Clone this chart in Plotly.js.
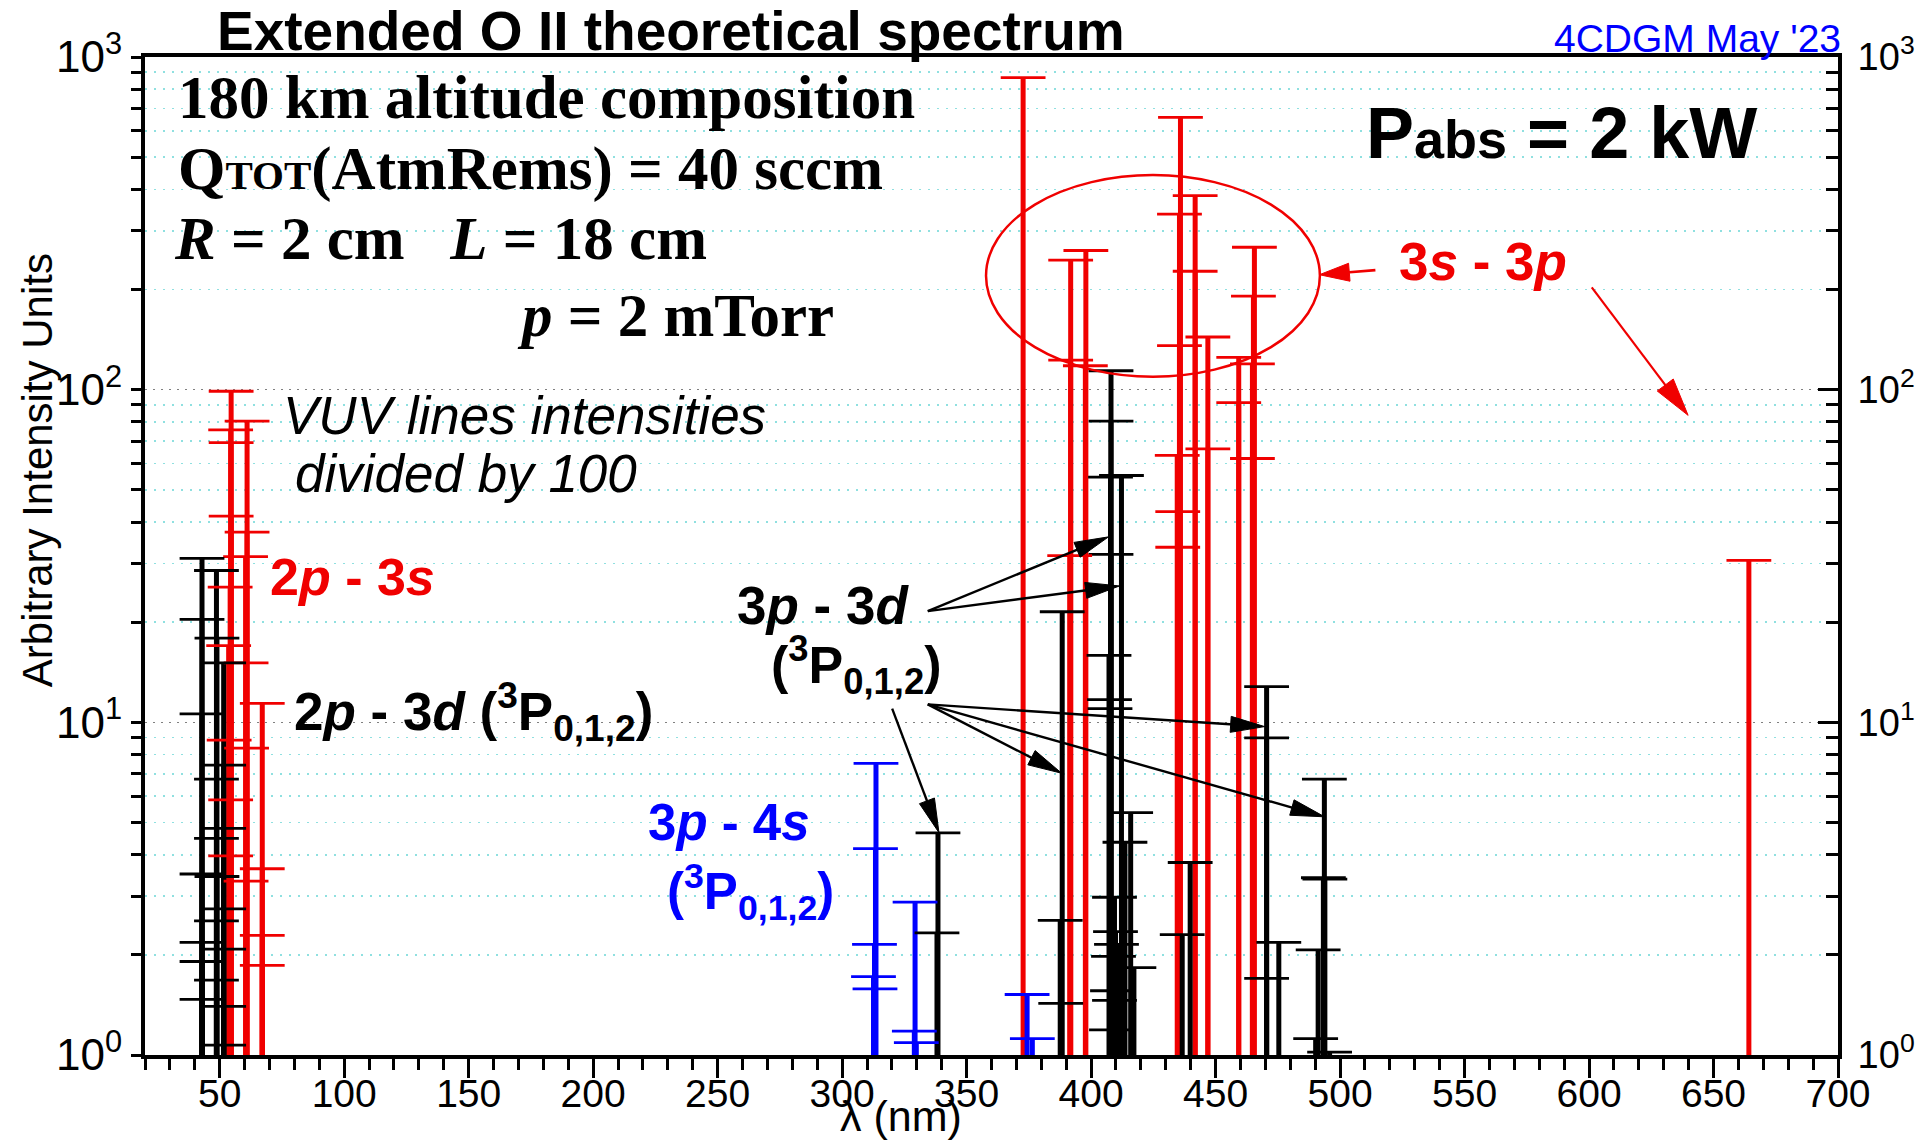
<!DOCTYPE html>
<html>
<head>
<meta charset="utf-8">
<script src="https://cdn.plot.ly/plotly-3.0.1.min.js"></script>
<style>
  html, body { margin: 0; padding: 0; background: #ffffff; }
  #chart { width: 1930px; height: 1144px; }
</style>
</head>
<body>
<div id="chart"></div>
<script>
// ---- O II line list: wavelength (nm) and relative intensity (arb. units) ----
// VUV lines (intensities divided by 100)
const vuv2p3sLambda    = [54.6, 54.4, 54.6, 54.6, 54.2, 53.6, 53.8, 54.4, 54.4,
                          61.0, 61.0, 60.4, 60.6, 60.8, 60.6,
                          67.1, 67.1, 67.1, 67.1];
const vuv2p3sIntensity = [98.9, 75.7, 69.3, 41.7, 25.5, 17.0, 8.84, 5.85, 3.97,
                          80.4, 37.3, 31.5, 15.1, 8.37, 3.33,
                          11.4, 3.63, 2.29, 1.86];

const vuv2p3dLambda    = [42.9, 42.9, 42.9, 42.9, 42.9, 42.9, 42.9,
                          48.7, 48.9, 48.7, 48.7, 48.9, 48.7, 48.7,
                          51.6, 51.6, 51.6, 51.6, 51.6, 51.6, 51.6];
const vuv2p3dIntensity = [31.1, 20.4, 10.6, 3.5, 2.18, 1.91, 1.47,
                          28.6, 17.9, 6.75, 4.48, 3.44, 2.53, 1.68,
                          15.1, 7.44, 4.8, 2.75, 2.08, 1.40, 1.07];

// Visible / near-UV lines
const lines3s3pLambda    = [372.7, 391.8, 391.8, 391.4, 397.9, 397.7,
                            435.9, 435.5, 435.5, 434.6, 434.8, 434.8,
                            441.8, 441.8, 446.9, 446.9, 459.3, 459.3,
                            465.6, 465.2, 464.8, 464.8, 664.2];
const lines3s3pIntensity = [867, 245, 122.7, 31.7, 262, 118,
                            658, 337, 135.7, 63.5, 43, 33.6,
                            383, 227, 144, 66.4, 125, 91.4,
                            268, 191, 119.5, 62.1, 30.7];

const lines3p3dLambda    = [338.5, 338.1, 388.4, 387.6, 387.8,
                            408.0, 408.0, 407.8, 408.0, 407.2, 407.4, 407.6,
                            409.4, 409.8, 410.2, 409.0, 408.6, 409.4, 408.2,
                            412.2, 413.6, 415.9, 417.2, 436.6, 439.8,
                            470.5, 470.5, 470.5, 475.4,
                            493.7, 493.3, 493.9, 491.2, 490.2, 495.8];
const lines3p3dIntensity = [4.65, 2.33, 21.5, 2.54, 1.43,
                            114, 80.4, 54.6, 32, 15.9, 11.7, 11.0,
                            2.98, 2.35, 2.15, 1.98, 1.56, 1.46, 1.19,
                            55.2, 4.36, 5.35, 1.83, 2.30, 3.79,
                            12.8, 8.98, 1.70, 2.18,
                            6.75, 3.41, 3.38, 2.07, 1.12, 1.02];

const lines3p4sLambda    = [313.6, 313.4, 313.0, 312.6, 313.2, 329.3, 329.0, 329.8, 374.3, 376.4];
const lines3p4sIntensity = [7.53, 4.17, 2.15, 1.72, 1.58, 2.88, 1.18, 1.09, 1.52, 1.12];

// ---- axis ticks ----
const xTickValues  = [50, 100, 150, 200, 250, 300, 350, 400, 450, 500, 550, 600, 650, 700];
const decadeValues = [1, 10, 100, 1000];
const decadeLabels = ['10<sup>0</sup>', '10<sup>1</sup>', '10<sup>2</sup>', '10<sup>3</sup>'];

const X_RANGE = [20, 700];
const Y_LOG_RANGE = [0, 3];
const BASELINE = 1;   // sticks rise from the bottom of the log axis

const RED = '#f00000', BLACK = '#000000', BLUE = '#0000ff';

// minor log ticks 2..9 in every decade
const minorValues = [];
decadeValues.slice(0, 3).forEach(d => { for (let k = 2; k <= 9; k++) minorValues.push(d * k); });

// ---- stick spectrum helpers ----
function stickTrace(lams, vals, color, width, yaxis) {
  const x = [], y = [];
  lams.forEach((l, i) => { x.push(l, l, null); y.push(BASELINE, vals[i], null); });
  return { type: 'scatter', mode: 'lines', x, y, yaxis: yaxis || 'y',
           line: { color, width }, hoverinfo: 'skip', showlegend: false };
}
function capTrace(lams, vals, color, yaxis) {
  return { type: 'scatter', mode: 'markers', x: lams, y: vals, yaxis: yaxis || 'y',
           marker: { symbol: 'line-ew', size: 32, color, line: { color, width: 2.8 } },
           hoverinfo: 'skip', showlegend: false, cliponaxis: false };
}

const traces = [
  stickTrace(vuv2p3sLambda, vuv2p3sIntensity, RED, 5),
  stickTrace(lines3s3pLambda, lines3s3pIntensity, RED, 5),
  stickTrace(vuv2p3dLambda, vuv2p3dIntensity, BLACK, 5),
  stickTrace(lines3p3dLambda, lines3p3dIntensity, BLACK, 5),
  stickTrace(lines3p4sLambda, lines3p4sIntensity, BLUE, 5),
  capTrace(vuv2p3sLambda, vuv2p3sIntensity, RED),
  capTrace(lines3s3pLambda, lines3s3pIntensity, RED, 'y2'),
  capTrace(vuv2p3dLambda, vuv2p3dIntensity, BLACK),
  capTrace(lines3p3dLambda, lines3p3dIntensity, BLACK),
  capTrace(lines3p4sLambda, lines3p4sIntensity, BLUE)
];

// ---- geometry of the plotting area ----
const W = 1930, H = 1144;
const M = { l: 145, r: 92, t: 57, b: 89 };
const plotW = W - M.l - M.r, plotH = H - M.t - M.b;
const paperX = lam => (lam - X_RANGE[0]) / (X_RANGE[1] - X_RANGE[0]);
const paperY = v => (Math.log10(v) - Y_LOG_RANGE[0]) / (Y_LOG_RANGE[1] - Y_LOG_RANGE[0]);

// pointer arrows with long, narrow filled heads
function arrowShapes(from, to, color, len, halfW, width) {
  const x0 = paperX(from[0]) * plotW, y0 = paperY(from[1]) * plotH;
  const x1 = paperX(to[0]) * plotW,   y1 = paperY(to[1]) * plotH;
  const dx = x1 - x0, dy = y1 - y0, d = Math.hypot(dx, dy);
  const ux = dx / d, uy = dy / d, nx = -uy, ny = ux;
  const bx = x1 - ux * len, by = y1 - uy * len;
  const P = (x, y) => (x / plotW).toFixed(5) + ',' + (y / plotH).toFixed(5);
  return [
    { type: 'line', xref: 'paper', yref: 'paper', layer: 'above',
      x0: x0 / plotW, y0: y0 / plotH, x1: (bx + ux * 3) / plotW, y1: (by + uy * 3) / plotH,
      line: { color, width } },
    { type: 'path', xref: 'paper', yref: 'paper', layer: 'above',
      path: 'M' + P(x1, y1) + ' L' + P(bx + nx * halfW, by + ny * halfW) +
            ' L' + P(bx - nx * halfW, by - ny * halfW) + ' Z',
      fillcolor: color, line: { color, width: 1 } }
  ];
}

const shapes = [].concat(
  arrowShapes([334.4, 21.6], [407.0, 36.1], BLACK, 34, 8, 2.4),
  arrowShapes([334.4, 21.6], [411.4, 25.7], BLACK, 34, 8, 2.4),
  arrowShapes([334.4, 11.32], [469.7, 9.71], BLACK, 34, 8, 2.4),
  arrowShapes([334.4, 11.32], [388.2, 7.03], BLACK, 34, 8, 2.4),
  arrowShapes([334.4, 11.32], [493.8, 5.2], BLACK, 34, 8, 2.4),
  arrowShapes([320.1, 11.0], [338.9, 4.66], BLACK, 34, 8, 2.4),
  arrowShapes([514.2, 228.8], [491.7, 221.6], RED, 30, 9, 2.6),
  arrowShapes([601.1, 203], [639.8, 83.7], RED, 38, 10, 2.2),
  [{ type: 'circle', xref: 'x', yref: 'y', layer: 'above',
     x0: 357.8, x1: 491.9, y0: 109.4, y1: 441.7,
     line: { color: RED, width: 2.5 } }]
);

// ---- text ----
const SERIF = 'Liberation Serif, Times New Roman, serif';
const SANS = 'Liberation Sans, Arial, sans-serif';
const lg = Math.log10;
function label(text, lam, val, size, color, family, anchor) {
  return { text, x: lam, y: lg(val), xref: 'x', yref: 'y', showarrow: false,
           xanchor: anchor || 'left', yanchor: 'middle',
           font: { family: family || SANS, size, color: color || BLACK } };
}
const P012 = '(<sup>3</sup>P<sub>0,1,2</sub>)';

const annotations = [
  { text: '<b>Extended O II theoretical spectrum</b>', xref: 'paper', yref: 'paper',
    x: 0.0413, y: 1.026, xanchor: 'left', yanchor: 'middle', showarrow: false,
    font: { family: SANS, size: 55, color: BLACK } },
  { text: "4CDGM May '23", xref: 'paper', yref: 'paper',
    x: 1.003, y: 1.019, xanchor: 'right', yanchor: 'middle', showarrow: false,
    font: { family: SANS, size: 39, color: BLUE } },
  { text: 'λ (nm)', xref: 'paper', yref: 'paper', x: 0.4466, y: -0.087,
    xanchor: 'center', yanchor: 'bottom', showarrow: false,
    font: { family: SANS, size: 43, color: BLACK } },
  { text: 'Arbitrary Intensity Units', xref: 'paper', yref: 'paper', x: -0.0638, y: 0.586,
    xanchor: 'center', yanchor: 'middle', textangle: -90, showarrow: false,
    font: { family: SANS, size: 42, color: BLACK } },

  label('<b>180 km altitude composition</b>', 32.5, 753, 61, BLACK, SERIF),
  label('<b>Q<span style="font-size:41px">TOT</span>(AtmRems) = 40 sccm</b>', 32.5, 460, 61, BLACK, SERIF),
  label('<b><i>R</i> = 2 cm   <i>L</i> = 18 cm</b>', 30.8, 284, 61, BLACK, SERIF),
  label('<b><i>p</i> = 2 mTorr</b>', 168.6, 167.5, 61, BLACK, SERIF),
  label('<b>P<span style="font-size:54px">abs</span> = 2 kW</b>', 509.6, 592, 72, BLACK, SANS),

  label('<i>VUV lines intensities</i>', 74.6, 83.4, 53, BLACK, SANS),
  label('<i>divided by 100</i>', 79.4, 56.1, 53, BLACK, SANS),
  label('<b>2<i>p</i> - 3<i>s</i></b>', 69.4, 27.4, 52, RED, SANS),
  label('<b>2<i>p</i> - 3<i>d</i> ' + P012 + '</b>', 79.0, 10.8, 53, BLACK, SANS),
  label('<b>3<i>p</i> - 3<i>d</i></b>', 257, 22.4, 53, BLACK, SANS),
  label('<b>' + P012 + '</b>', 270.6, 14.9, 52, BLACK, SANS),
  label('<b>3<i>p</i> - 4<i>s</i></b>', 221.2, 5.01, 51, BLUE, SANS),
  label('<b>' + P012 + '</b>', 228.9, 3.09, 51, BLUE, SANS),
  label('<b>3<i>s</i> - 3<i>p</i></b>', 522.9, 242, 53, RED, SANS)
];

const layout = {
  width: W, height: H,
  margin: { l: M.l, r: M.r, t: M.t, b: M.b, pad: 0 },
  paper_bgcolor: '#ffffff', plot_bgcolor: '#ffffff',
  showlegend: false, hovermode: false,
  font: { family: SANS, color: BLACK },
  xaxis: {
    type: 'linear', range: X_RANGE, tickmode: 'array', tickvals: xTickValues,
    ticktext: xTickValues.map(String),
    ticks: 'outside', ticklen: 19, tickwidth: 3, tickcolor: BLACK, ticklabelstandoff: -18,
    minor: { tickmode: 'linear', tick0: 0, dtick: 10, ticks: 'outside', ticklen: 11,
             tickwidth: 3, tickcolor: BLACK, showgrid: false },
    showline: true, linewidth: 4, linecolor: BLACK, mirror: true,
    showgrid: false, zeroline: false, fixedrange: true,
    tickfont: { family: SANS, size: 39, color: BLACK }
  },
  yaxis: {
    type: 'log', range: Y_LOG_RANGE, tickmode: 'array', tickvals: decadeValues, ticktext: decadeLabels,
    ticks: 'outside', ticklen: 10, tickwidth: 3, tickcolor: BLACK, ticklabelstandoff: 0,
    minor: { tickmode: 'array', tickvals: minorValues, ticks: 'outside', ticklen: 10, tickwidth: 3,
             tickcolor: BLACK, showgrid: true, gridcolor: '#8fe0e0', griddash: '2px,7px', gridwidth: 1.6 },
    showgrid: true, gridcolor: '#808080', griddash: '2px,6px', gridwidth: 1.6,
    showline: true, linewidth: 4, linecolor: BLACK, zeroline: false, fixedrange: true,
    tickfont: { family: SANS, size: 44, color: BLACK }
  },
  yaxis2: {
    type: 'log', range: Y_LOG_RANGE, overlaying: 'y', side: 'right',
    tickmode: 'array', tickvals: decadeValues, ticktext: decadeLabels,
    ticks: 'inside', ticklen: 20, tickwidth: 3, tickcolor: BLACK, ticklabelstandoff: 8,
    minor: { tickmode: 'array', tickvals: minorValues, ticks: 'inside', ticklen: 12, tickwidth: 3,
             tickcolor: BLACK, showgrid: false },
    showgrid: false, showline: true, linewidth: 4, linecolor: BLACK, zeroline: false, fixedrange: true,
    tickfont: { family: SANS, size: 38, color: BLACK }
  },
  shapes, annotations
};

Plotly.newPlot('chart', traces, layout, { staticPlot: true, displayModeBar: false });
</script>
</body>
</html>
